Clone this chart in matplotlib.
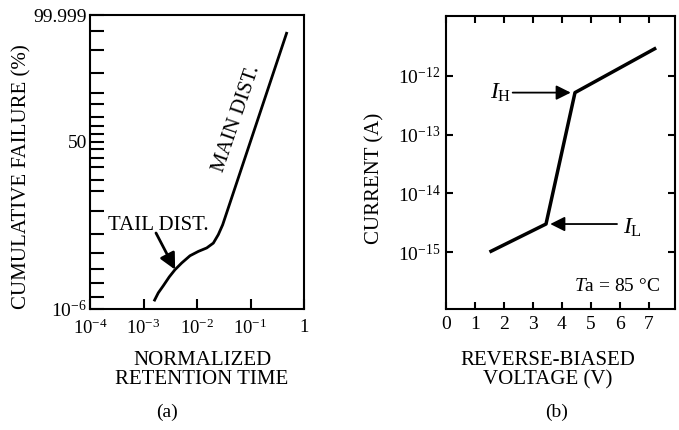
import math
import numpy as np
import matplotlib
matplotlib.use("Agg")
import matplotlib.pyplot as plt
from matplotlib.ticker import FixedLocator, NullLocator

plt.rcParams['font.family'] = 'Liberation Serif'
plt.rcParams['mathtext.fontset'] = 'custom'
plt.rcParams['mathtext.rm'] = 'Liberation Serif'
plt.rcParams['mathtext.it'] = 'Liberation Serif:italic'

# (a) retention time distribution, cumulative failure in %
ret_time = [1.57e-3, 1.89e-3, 2.35e-3, 3.03e-3, 3.88e-3, 5.18e-3, 7.40e-3,
            1.06e-2, 1.52e-2, 2.02e-2, 2.50e-2, 3.02e-2, 0.481]
cum_fail = [4.3e-6, 2.0e-5, 6.9e-5, 2.9e-4, 8.9e-4, 2.4e-3, 6.6e-3,
            0.0118, 0.0185, 0.034, 0.092, 0.27, 99.989]
ret_ticks = [1e-4, 1e-3, 1e-2, 1e-1, 1]
ret_labels = ['10$^{-4}$', '10$^{-3}$', '10$^{-2}$', '10$^{-1}$', '1']
fail_ticks = [1e-6, 50, 99.999]
fail_labels = ['10$^{-6}$', '50', '99.999']
fail_minor = [1e-5, 1e-4, 1e-3, 0.01, 0.1, 1, 5, 10, 20, 30, 40,
              60, 70, 80, 90, 95, 99, 99.9, 99.99]

# (b) leakage current vs reverse voltage
volt = [1.5, 3.45, 4.45, 7.25]
current = [1.0e-15, 3.0e-15, 5.2e-13, 3.0e-12]
volt_ticks = [0, 1, 2, 3, 4, 5, 6, 7]
cur_ticks = [1e-15, 1e-14, 1e-13, 1e-12]
cur_labels = ['10$^{-15}$', '10$^{-14}$', '10$^{-13}$', '10$^{-12}$']

_erfc = np.vectorize(math.erfc)


def norm_cdf(z):
    return 0.5 * _erfc(-np.asarray(z, float) / math.sqrt(2))


def prob_fwd(pct):
    p = np.clip(np.asarray(pct, float) / 100.0, 1e-15, 1 - 1e-15)
    lo = np.full(p.shape, -9.0)
    hi = np.full(p.shape, 9.0)
    for _ in range(70):
        mid = (lo + hi) / 2
        below = norm_cdf(mid) < p
        lo = np.where(below, mid, lo)
        hi = np.where(below, hi, mid)
    return (lo + hi) / 2


def prob_inv(z):
    return 100.0 * norm_cdf(z)


fig = plt.figure(figsize=(6.79, 4.30), dpi=100)
W, H = 679.0, 430.0

# ---- panel (a)
ax1 = fig.add_axes([90 / W, 1 - 309 / H, 214 / W, 294 / H])
ax1.set_xscale('log')
ax1.set_yscale('function', functions=(prob_fwd, prob_inv))
ax1.plot(ret_time, cum_fail, color='black', lw=2.0, solid_capstyle='butt')
ax1.set_xlim(1e-4, 1)
ax1.set_ylim(1e-6, 99.999)
ax1.xaxis.set_major_locator(FixedLocator(ret_ticks))
ax1.xaxis.set_minor_locator(NullLocator())
ax1.set_xticklabels(ret_labels)
ax1.yaxis.set_major_locator(FixedLocator(fail_ticks))
ax1.yaxis.set_minor_locator(FixedLocator(fail_minor))
ax1.set_yticklabels(fail_labels)
ax1.tick_params(axis='x', which='major', direction='in', length=7, width=1.5,
                labelsize=13.5, pad=7)
ax1.tick_params(axis='y', which='both', direction='in', length=10, width=1.5,
                labelsize=14, pad=2)
for s in ax1.spines.values():
    s.set_linewidth(1.5)

fig.text(108 / W, 1 - 225 / H, 'TAIL DIST.', fontsize=15, ha='left',
         va='center')
ax1.annotate('', xy=(3.9e-3, 8.9e-4), xytext=(156, H - 233),
             textcoords='figure pixels',
             arrowprops=dict(arrowstyle='-|>', color='black', lw=2.0,
                             mutation_scale=24, shrinkA=0, shrinkB=0))
fig.text(237 / W, 1 - 119 / H, 'MAIN DIST.', fontsize=15, rotation=71,
         ha='center', va='center')

fig.text(22 / W, 1 - 177 / H, 'CUMULATIVE FAILURE (%)', fontsize=15,
         rotation=90, ha='center', va='center')
fig.text(202 / W, 1 - 370 / H, 'NORMALIZED\nRETENTION TIME', fontsize=15,
         ha='center', va='center', linespacing=1.05)
fig.text(167 / W, 1 - 412 / H, '(a)', fontsize=14, ha='center', va='center')

# ---- panel (b)
ax2 = fig.add_axes([446 / W, 1 - 309 / H, 229 / W, 293 / H])
ax2.set_yscale('log')
ax2.plot(volt, current, color='black', lw=2.5, solid_capstyle='butt')
ax2.set_xlim(0, 7.9)
ax2.set_ylim(1.07e-16, 1.05e-11)
ax2.xaxis.set_major_locator(FixedLocator(volt_ticks))
ax2.yaxis.set_major_locator(FixedLocator(cur_ticks))
ax2.yaxis.set_minor_locator(NullLocator())
ax2.set_yticklabels(cur_labels)
ax2.tick_params(axis='both', which='major', direction='in', length=5, width=1.5,
                labelsize=14, top=True, right=True)
ax2.tick_params(axis='x', pad=5)
ax2.tick_params(axis='y', pad=4)
for s in ax2.spines.values():
    s.set_linewidth(1.5)

ax2.annotate('', xy=(4.4, 5.2e-13), xytext=(2.3, 5.2e-13),
             arrowprops=dict(arrowstyle='-|>', color='black', lw=1.3,
                             mutation_scale=22, shrinkA=0, shrinkB=2))
ax2.text(2.25, 5.2e-13, r'$I_{\mathrm{H}}$', fontsize=17, ha='right',
         va='center')
ax2.annotate('', xy=(3.5, 3.0e-15), xytext=(5.9, 3.0e-15),
             arrowprops=dict(arrowstyle='-|>', color='black', lw=1.3,
                             mutation_scale=22, shrinkA=0, shrinkB=2))
ax2.text(6.1, 2.6e-15, r'$I_{\mathrm{L}}$', fontsize=17, ha='left',
         va='center')
ax2.text(7.4, 2.6e-16, r'$T$a = 85 °C', fontsize=14, ha='right',
         va='center')

fig.text(375 / W, 1 - 178 / H, 'CURRENT (A)', fontsize=15,
         rotation=90, ha='center', va='center')
fig.text(548 / W, 1 - 370 / H, 'REVERSE-BIASED\nVOLTAGE (V)', fontsize=15,
         ha='center', va='center', linespacing=1.05)
fig.text(557 / W, 1 - 412 / H, '(b)', fontsize=14, ha='center', va='center')

fig.savefig('out.png', dpi=100)
